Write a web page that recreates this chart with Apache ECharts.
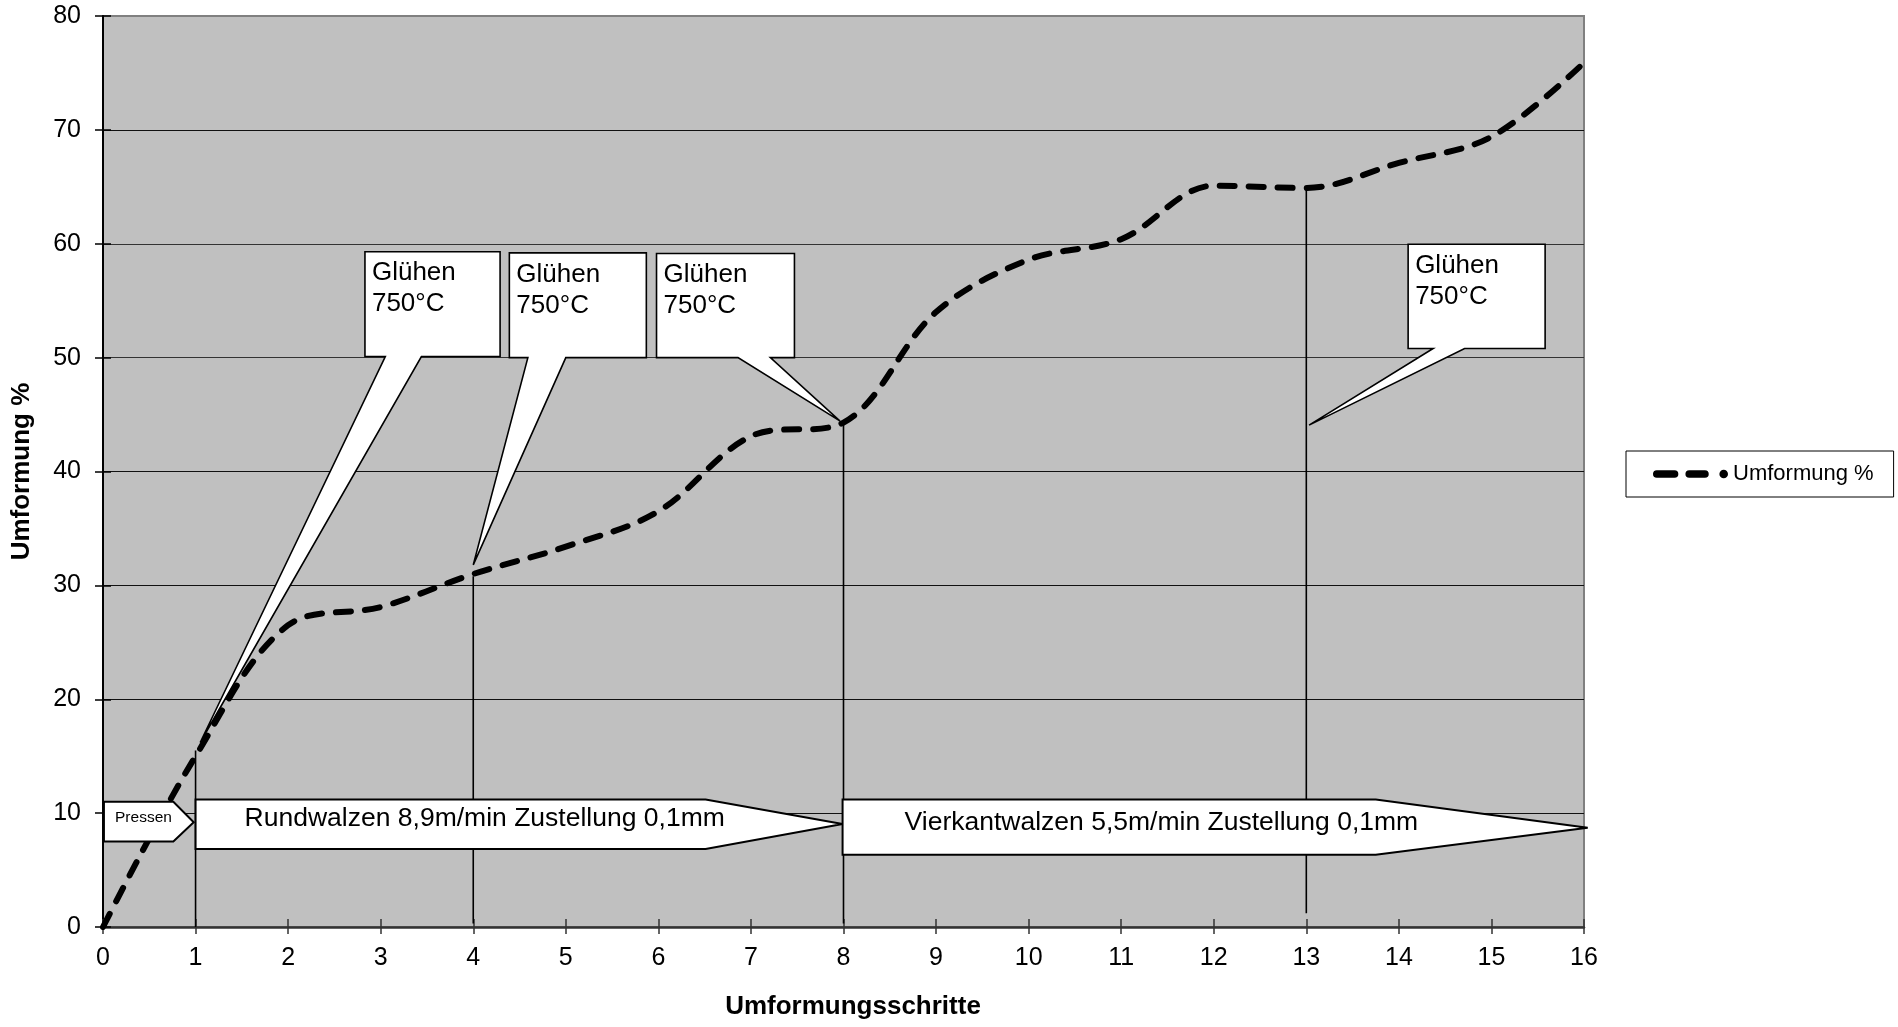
<!DOCTYPE html>
<html>
<head>
<meta charset="utf-8">
<script src="https://cdn.jsdelivr.net/npm/echarts@6/dist/echarts.min.js"></script>
<style>
html,body{margin:0;padding:0;background:#fff;}
#chart{width:1898px;height:1027px;}
</style>
</head>
<body>
<div id="chart"></div>
<script>
// ---- data ----
const steps = [0,1,2,3,4,5,6,7,8,9,10,11,12,13,14,15,16];
const umformung = [0, 15, 26.5, 28.1, 31, 33.4, 36.5, 43.1, 44.3, 54, 58.6, 60.4, 65.1, 64.9, 67.1, 69.4, 75.9];
const seriesName = 'Umformung %';
const xTitle = 'Umformungsschritte';
const yTitle = 'Umformung %';

// drop lines (step, from value, to value)
const dropX = [1, 4, 8, 13];
const dropLow = [0, 0.3, 0.3, 1.2];
const dropHigh = [15.5, 30.8, 44.2, 65];

// callouts "Glühen 750°C"
const calloutText = 'Glühen\n750°C';
const calloutLeft = [2.83, 4.39, 5.98, 14.1];
const calloutRight = [4.29, 5.87, 7.47, 15.58];
const calloutTop = [59.3, 59.2, 59.15, 59.96];
const calloutBottom = [50.1, 50.0, 50.0, 50.8];
const wedgeLeft = [3.05, 4.59, 6.86, 14.37];
const wedgeRight = [3.44, 5.0, 7.21, 14.71];
const tipX = [1.05, 4.0, 7.96, 13.03];
const tipY = [16.2, 31.8, 44.45, 44.07];

// process arrows
const arrowText = ['Pressen', 'Rundwalzen 8,9m/min Zustellung 0,1mm', 'Vierkantwalzen 5,5m/min Zustellung 0,1mm'];
const arrowStart = [0.01, 1.0, 7.99];
const arrowBodyEnd = [0.76, 6.51, 13.75];
const arrowTip = [0.98, 7.99, 16.04];
const arrowTop = [11.0, 11.2, 11.2];
const arrowBottom = [7.5, 6.85, 6.35];
const arrowTipY = [9.2, 9.05, 8.72];
const arrowTextX = [0.13, 1.53, 8.66];

const FONT = '"Liberation Sans", Arial, sans-serif';
const LEGEND_ICON = 'path://M3.75,0 H21.25 A3.75,3.75 0 0 1 21.25,7.5 H3.75 A3.75,3.75 0 0 1 3.75,0 Z ' +
  'M35.75,0 H51.25 A3.75,3.75 0 0 1 51.25,7.5 H35.75 A3.75,3.75 0 0 1 35.75,0 Z ' +
  'M65.5,3.75 A4.25,4.25 0 1 1 74,3.75 A4.25,4.25 0 1 1 65.5,3.75 Z';

const chart = echarts.init(document.getElementById('chart'));

const dropData = dropX.map((x, i) => [x, dropLow[i], dropHigh[i]]);
const calloutData = calloutLeft.map((l, i) => [l, calloutRight[i], calloutTop[i], calloutBottom[i], wedgeLeft[i], wedgeRight[i], tipX[i], tipY[i]]);
const arrowData = arrowStart.map((s, i) => [s, arrowBodyEnd[i], arrowTip[i], arrowTop[i], arrowBottom[i], arrowTipY[i], arrowTextX[i], i]);

const option = {
  animation: false,
  backgroundColor: '#fff',
  textStyle: { fontFamily: FONT },
  grid: {
    left: 103, right: 314, top: 16, bottom: 100,
    show: true, backgroundColor: '#C0C0C0', borderColor: '#808080', borderWidth: 2
  },
  legend: {
    data: [{ name: seriesName, icon: LEGEND_ICON }],
    left: 1626, top: 451,
    orient: 'vertical',
    backgroundColor: '#fff',
    borderColor: '#000', borderWidth: 1,
    padding: [12, 20, 12, 27],
    itemWidth: 75, itemHeight: 9,
    textStyle: { fontSize: 22, color: '#000', fontFamily: FONT }
  },
  xAxis: [{
    type: 'value', min: 0, max: 16, interval: 1,
    position: 'bottom',
    name: xTitle, nameLocation: 'middle', nameGap: 67,
    nameTextStyle: { fontSize: 26, fontWeight: 'bold', color: '#000', fontFamily: FONT, padding: [0, 0, 0, 19] },
    axisLine: { lineStyle: { color: '#333', width: 2.5 } },
    axisTick: { show: true, length: 7, lineStyle: { color: '#333', width: 1.5 } },
    axisLabel: { fontSize: 25, color: '#000', margin: 19, fontFamily: FONT },
    splitLine: { show: false }
  }, {
    type: 'value', min: 0, max: 16, interval: 1,
    position: 'bottom',
    axisLine: { show: false },
    axisTick: { show: true, inside: true, length: 8, lineStyle: { color: '#333', width: 1.5 } },
    axisLabel: { show: false },
    splitLine: { show: false }
  }],
  yAxis: [{
    type: 'value', min: 0, max: 80, interval: 10,
    position: 'left',
    name: yTitle, nameLocation: 'middle', nameGap: 68,
    nameTextStyle: { fontSize: 26, fontWeight: 'bold', color: '#000', fontFamily: FONT },
    axisLine: { show: true, lineStyle: { color: '#000', width: 2 } },
    axisTick: { show: true, length: 8, lineStyle: { color: '#000', width: 1.5 } },
    axisLabel: { fontSize: 25, color: '#000', margin: 22, fontFamily: FONT },
    splitLine: { show: true, lineStyle: { color: ['#333', '#111', '#111', '#111', '#111', '#333', '#333', '#111', '#808080'], width: 1.2 } }
  }, {
    type: 'value', min: 0, max: 80, interval: 10,
    position: 'left',
    axisLine: { show: false },
    axisTick: { show: true, inside: true, length: 8, lineStyle: { color: '#000', width: 1.5 } },
    axisLabel: { show: false },
    splitLine: { show: false }
  }],
  series: [
    {
      type: 'custom', name: 'drop', z: 2, clip: false,
      xAxisIndex: 0, yAxisIndex: 0,
      data: dropData,
      renderItem: function (params, api) {
        const a = api.coord([api.value(0), api.value(1)]);
        const b = api.coord([api.value(0), api.value(2)]);
        return { type: 'line', shape: { x1: a[0], y1: a[1], x2: b[0], y2: b[1] }, style: { stroke: '#000', lineWidth: 1.6 } };
      }
    },
    {
      type: 'custom', name: 'callout', z: 3, clip: false,
      xAxisIndex: 0, yAxisIndex: 0,
      data: calloutData,
      renderItem: function (params, api) {
        const l = api.value(0), r = api.value(1), t = api.value(2), b = api.value(3);
        const wl = api.value(4), wr = api.value(5), tx = api.value(6), ty = api.value(7);
        const pts = [
          api.coord([l, t]), api.coord([r, t]), api.coord([r, b]), api.coord([wr, b]),
          api.coord([tx, ty]), api.coord([wl, b]), api.coord([l, b])
        ];
        const tl = pts[0];
        return {
          type: 'group',
          children: [
            { type: 'polygon', shape: { points: pts }, style: { fill: '#fff', stroke: '#000', lineWidth: 1.6, lineJoin: 'miter' } },
            { type: 'text', x: tl[0] + 7, y: tl[1] + 6,
              style: { text: calloutText, fill: '#000', fontSize: 26, fontFamily: FONT, lineHeight: 31, align: 'left', verticalAlign: 'top' } }
          ]
        };
      }
    },
    {
      type: 'line', name: seriesName, z: 4,
      xAxisIndex: 0, yAxisIndex: 0,
      data: steps.map((s, i) => [s, umformung[i]]),
      smooth: 0.35,
      symbol: 'none',
      lineStyle: { color: '#000', width: 6, type: [15, 14], cap: 'round', join: 'round' },
      itemStyle: { color: '#000' }
    },
    {
      type: 'custom', name: 'arrows', z: 5, clip: false,
      xAxisIndex: 0, yAxisIndex: 0,
      data: arrowData,
      renderItem: function (params, api) {
        const s = api.value(0), be = api.value(1), tp = api.value(2), top = api.value(3), bot = api.value(4), ty = api.value(5), txx = api.value(6);
        const idx = api.value(7);
        const pts = [api.coord([s, top]), api.coord([be, top]), api.coord([tp, ty]), api.coord([be, bot]), api.coord([s, bot])];
        const tpos = api.coord([txx, ty]);
        return {
          type: 'group',
          children: [
            { type: 'polygon', shape: { points: pts }, style: { fill: '#fff', stroke: '#000', lineWidth: 2, lineJoin: 'miter', miterLimit: 3 } },
            { type: 'text', x: tpos[0], y: tpos[1] - 5,
              style: { text: arrowText[idx], fill: '#000', fontSize: idx === 0 ? 15.5 : 26.5, fontFamily: FONT, align: 'left', verticalAlign: 'middle' } }
          ]
        };
      }
    }
  ]
};
chart.setOption(option);
</script>
</body>
</html>
